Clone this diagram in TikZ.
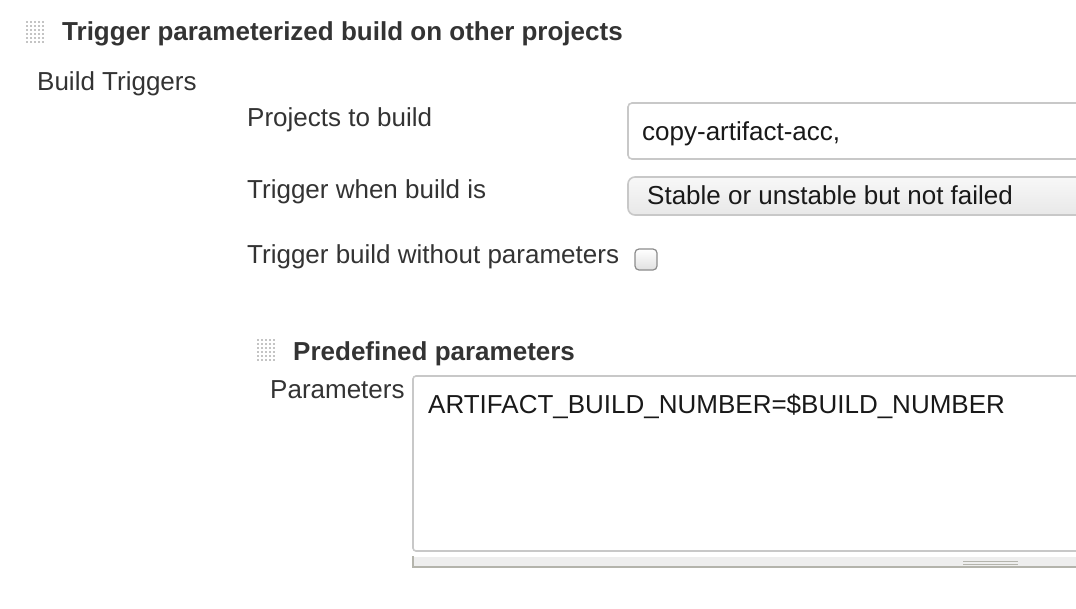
\documentclass[tikz,border=0pt]{standalone}
\usepackage{fontspec}
\setmainfont{Liberation Sans}
\begin{document}
\begin{tikzpicture}[x=1pt,y=-1pt,
  lbl/.style={anchor=base west,inner sep=0pt,text=labelgray,font=\fontsize{26}{30}\selectfont},
  ttl/.style={lbl,font=\fontsize{26}{30}\selectfont\bfseries},
  val/.style={anchor=base west,inner sep=0pt,text=black!90,font=\fontsize{26}{30}\selectfont},
  field/.style={draw=fieldborder,line width=1.6pt,fill=white,rounded corners=4pt},
  dot/.style={fill=gripgray}]
\definecolor{labelgray}{HTML}{333333}
\definecolor{fieldborder}{HTML}{C8C8C8}
\definecolor{gripgray}{HTML}{C4C4C4}
\definecolor{barfill}{HTML}{EEEEEE}
\definecolor{barline}{HTML}{B4B4AC}
\useasboundingbox (0,0) rectangle (1076,608);
\fill[white] (0,0) rectangle (1076,608);
% grip icons
\foreach \i in {0,...,4}{\foreach \j in {0,...,5}{
  \fill[dot] (25.5+4*\i,20.5+4*\j) rectangle ++(2.2,2.2);
  \fill[dot] (256.5+4*\i,338.5+4*\j) rectangle ++(2.2,2.2);
}}
\node[ttl] (title) at (62,40) {Trigger parameterized build on other projects};
\node[lbl] (bt) at (37,90) {Build Triggers};
\node[lbl] (ptb) at (247,126) {Projects to build};
\node[lbl] (twb) at (247,198) {Trigger when build is};
\node[lbl] (tbw) at (247,263) {Trigger build without parameters};
% text field
\draw[field] (628,103) rectangle (1100,159);
\node[val] (proj) at (642,140) {copy-artifact-acc,};
% dropdown
\draw[draw=fieldborder,line width=1.6pt,rounded corners=7pt,top color=white!97!black,bottom color=white!91!black] (628,177) rectangle (1100,215);
\node[val] (sel) at (647,204) {Stable or unstable but not failed};
% checkbox
\draw[draw=black!45,line width=1.2pt,rounded corners=4pt,top color=white,bottom color=white!88!black] (635,249) rectangle (657,270);
\node[ttl] (pp) at (293,360) {Predefined parameters};
\node[lbl] (par) at (270,398) {Parameters};
% textarea
\draw[field,rounded corners=3pt] (413,376) rectangle (1100,551);
\node[val] (art) at (428,413) {ARTIFACT\_BUILD\_NUMBER=\$BUILD\_NUMBER};
% scrollbar
\fill[barfill] (412,557) rectangle (1100,568);
\draw[barline,line width=2pt] (413,556) -- (413,567) -- (1100,567);
\draw[barline,line width=1pt] (963,561) -- (1018,561);
\draw[barline,line width=1pt] (963,564.5) -- (1018,564.5);
\end{tikzpicture}
\end{document}
